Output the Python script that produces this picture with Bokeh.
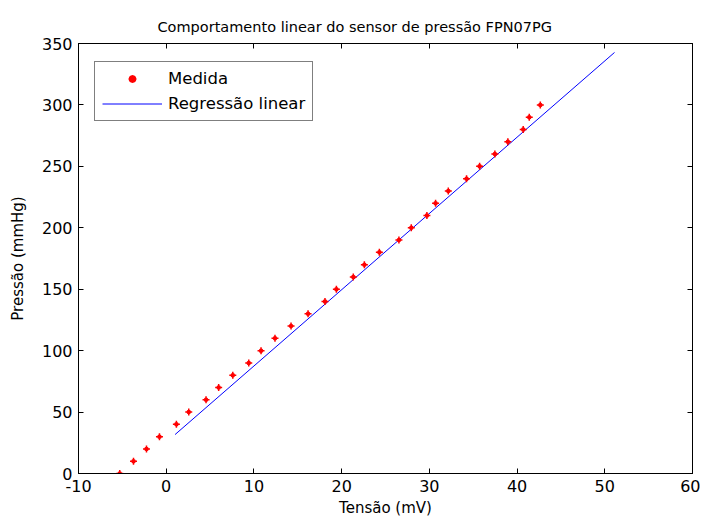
from bokeh.plotting import figure
from bokeh.models import LinearAxis, FixedTicker, Legend, LegendItem, Range1d
from bokeh.embed import file_html
from bokeh.resources import INLINE

tensao = [-5.30, -3.73, -2.25, -0.77, 1.16, 2.57, 4.54, 5.98, 7.59, 9.41,
          10.81, 12.40, 14.23, 16.17, 18.10, 19.40, 21.33, 22.59, 24.30, 26.53,
          27.94, 29.72, 30.71, 32.16, 34.24, 35.73, 37.47, 38.95, 40.70, 41.39, 42.65]
pressao = [0, 10, 20, 30, 40, 50, 60, 70, 80, 90, 100, 110, 120, 130, 140, 150,
           160, 170, 180, 190, 200, 210, 220, 230, 240, 250, 260, 270, 280, 290, 300]
reg_x = [1.01, 51.11]
reg_y = [31.7, 342.7]
x_ticks = [-10, 0, 10, 20, 30, 40, 50, 60]
y_ticks = [0, 50, 100, 150, 200, 250, 300, 350]

FONT = "DejaVu Sans"

p = figure(width=700, height=517, output_backend="svg", toolbar_location=None,
           x_range=Range1d(-10, 60), y_range=Range1d(0, 350),
           min_border_left=78, min_border_right=8, min_border_top=43, min_border_bottom=44)
p.frame_width = 614
p.frame_height = 430
p.xgrid.visible = False
p.ygrid.visible = False
p.outline_line_color = "black"
p.outline_line_width = 1
p.background_fill_color = "white"
p.border_fill_color = "white"

p.title.text = "Comportamento linear do sensor de pressão FPN07PG"
p.title.align = "left"
p.title.text_font = FONT
p.title.text_font_size = "14.5px"
p.title.text_font_style = "normal"
p.title.text_color = "black"
p.title.offset = 79
p.title.standoff = 17

p.xaxis.ticker = FixedTicker(ticks=x_ticks)
p.yaxis.ticker = FixedTicker(ticks=y_ticks)
p.xaxis.major_label_overrides = {t: str(t) for t in x_ticks}
for ax in [p.xaxis[0], p.yaxis[0]]:
    ax.major_tick_in = 5
    ax.major_tick_out = 0
    ax.minor_tick_in = 0
    ax.minor_tick_out = 0
    ax.axis_line_color = "black"
    ax.major_tick_line_color = "black"
    ax.major_label_text_font = FONT
    ax.major_label_text_font_size = "16px"
    ax.major_label_text_color = "black"
    ax.axis_label_text_font = FONT
    ax.axis_label_text_font_size = "15px"
    ax.axis_label_text_font_style = "normal"
    ax.axis_label_text_color = "black"
    ax.major_label_standoff = 6
p.xaxis.axis_label = "Tensão (mV)"
p.yaxis.axis_label = "Pressão (mmHg)"
p.xaxis.axis_label_standoff = 4
p.yaxis.axis_label_standoff = 12

top = LinearAxis(ticker=FixedTicker(ticks=x_ticks), major_label_text_font_size="0px",
                 major_tick_in=5, major_tick_out=0, minor_tick_in=0, minor_tick_out=0,
                 axis_line_color="black", major_label_standoff=0)
right = LinearAxis(ticker=FixedTicker(ticks=y_ticks), major_label_text_font_size="0px",
                   major_tick_in=5, major_tick_out=0, minor_tick_in=0, minor_tick_out=0,
                   axis_line_color="black", major_label_standoff=0)
p.add_layout(top, "above")
p.add_layout(right, "right")

r_line = p.line(reg_x, reg_y, line_color="#0000ff", line_width=1)
r_pts = p.scatter(tensao, pressao, marker="cross", size=7, line_color="red", line_width=1.5)
r_dot = p.scatter(tensao, pressao, marker="circle", size=4.5, fill_color="red",
                  line_color="red", line_width=0)

legend = Legend(items=[LegendItem(label="Medida", renderers=[r_pts, r_dot]),
                       LegendItem(label="Regressão linear", renderers=[r_line])],
                location=(16, 352), label_text_font=FONT, label_text_font_size="16.5px",
                label_text_color="black",
                glyph_width=60, glyph_height=19, label_height=19, spacing=6,
                padding=7, margin=0, label_standoff=6,
                border_line_color="black", border_line_width=1,
                background_fill_alpha=1.0)
p.add_layout(legend, "center")

open("out.html", "w").write(file_html(p, INLINE))
